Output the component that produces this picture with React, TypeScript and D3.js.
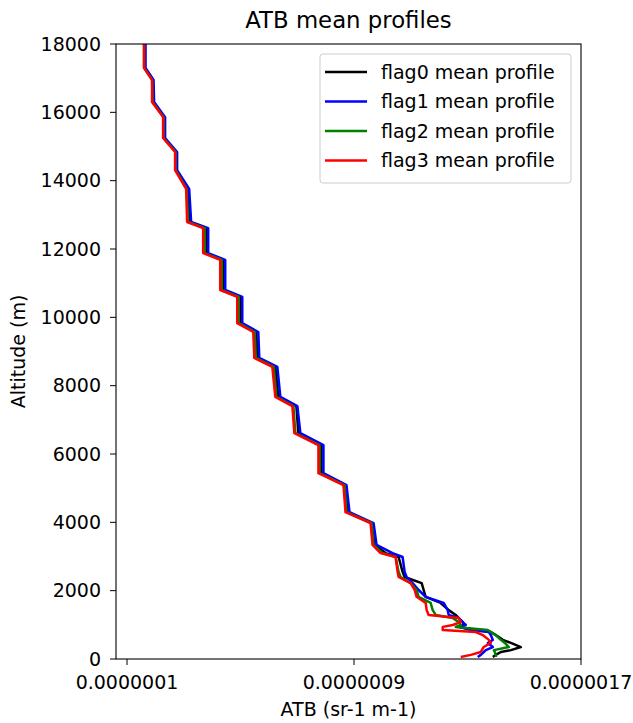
import React from 'react';
import * as d3 from 'd3';

const width = 633;
const height = 723;
const margin = { top: 44, right: 52, bottom: 64, left: 116 };
const font = 'DejaVu Sans, sans-serif';
const fontSize = 19;

// altitude grid shared by the four mean profiles (m)
const altitude = [
  18000, 17300, 16950, 16300, 15860, 15250, 14840, 14310, 13760, 12790, 12610, 11880, 11680,
  10800, 10600, 9830, 9570, 8810, 8550, 7670, 7400, 6610, 6260, 5440, 5090, 4300, 3980, 3340,
  3100, 2985, 2550, 2400, 2220, 2020, 1820, 1640, 1430, 1290, 1200, 1080, 995, 940, 850, 790,
  700, 560, 470, 350, 260, 205, 120, 60,
];

// ATB values (sr-1 m-1)
const flag0 = [
  1.618e-7, 1.618e-7, 1.901e-7, 1.918e-7, 2.307e-7, 2.307e-7, 2.731e-7, 2.731e-7, 3.137e-7, 3.208e-7,
  3.79e-7, 3.79e-7, 4.391e-7, 4.391e-7, 4.991e-7, 4.991e-7, 5.556e-7, 5.592e-7, 6.227e-7, 6.333e-7,
  6.969e-7, 7.04e-7, 7.852e-7, 7.852e-7, 8.7e-7, 8.77e-7, 9.618e-7, 9.724e-7, 10.113e-7, 10.572e-7,
  10.713e-7, 10.784e-7, 11.384e-7, 11.455e-7, 11.525e-7, 12.055e-7, 12.338e-7, 12.585e-7, 12.691e-7,
  12.832e-7, 12.868e-7, 12.691e-7, 13.291e-7, 13.821e-7, 13.998e-7, 14.245e-7, 14.528e-7, 14.881e-7,
  14.528e-7, 14.174e-7, 13.998e-7, 13.892e-7,
];
const flag1 = [
  1.653e-7, 1.653e-7, 1.936e-7, 1.954e-7, 2.342e-7, 2.342e-7, 2.766e-7, 2.766e-7, 3.19e-7, 3.26e-7,
  3.861e-7, 3.861e-7, 4.461e-7, 4.461e-7, 5.062e-7, 5.062e-7, 5.627e-7, 5.662e-7, 6.298e-7, 6.404e-7,
  7.004e-7, 7.11e-7, 7.923e-7, 7.923e-7, 8.735e-7, 8.841e-7, 9.689e-7, 9.795e-7, 10.36e-7, 10.713e-7,
  10.784e-7, 10.854e-7, 11.066e-7, 11.278e-7, 11.525e-7, 12.161e-7, 12.302e-7, 12.338e-7, 12.691e-7,
  12.832e-7, 12.938e-7, 12.691e-7, 13.115e-7, 13.751e-7, 13.821e-7, 13.892e-7, 13.715e-7, 13.892e-7,
  13.645e-7, 13.574e-7, 13.468e-7, 13.362e-7,
];
const flag2 = [
  1.6e-7, 1.6e-7, 1.883e-7, 1.901e-7, 2.289e-7, 2.289e-7, 2.713e-7, 2.713e-7, 3.102e-7, 3.155e-7,
  3.737e-7, 3.737e-7, 4.338e-7, 4.338e-7, 4.938e-7, 4.938e-7, 5.503e-7, 5.539e-7, 6.174e-7, 6.263e-7,
  6.863e-7, 6.934e-7, 7.781e-7, 7.781e-7, 8.664e-7, 8.735e-7, 9.618e-7, 9.689e-7, 10.007e-7, 10.466e-7,
  10.572e-7, 10.642e-7, 10.995e-7, 11.208e-7, 11.278e-7, 11.702e-7, 11.773e-7, 11.879e-7, 12.479e-7,
  12.691e-7, 12.762e-7, 12.585e-7, 13.715e-7, 13.821e-7, 13.998e-7, 14.174e-7, 14.316e-7, 14.457e-7,
  13.927e-7, 13.962e-7, 13.998e-7, 13.998e-7,
];
const flag3 = [
  1.6e-7, 1.6e-7, 1.883e-7, 1.883e-7, 2.272e-7, 2.272e-7, 2.695e-7, 2.695e-7, 3.084e-7, 3.119e-7,
  3.684e-7, 3.684e-7, 4.285e-7, 4.285e-7, 4.885e-7, 4.885e-7, 5.45e-7, 5.486e-7, 6.121e-7, 6.227e-7,
  6.828e-7, 6.898e-7, 7.746e-7, 7.746e-7, 8.629e-7, 8.7e-7, 9.583e-7, 9.653e-7, 9.936e-7, 10.466e-7,
  10.536e-7, 10.572e-7, 10.995e-7, 11.137e-7, 11.208e-7, 11.525e-7, 11.561e-7, 11.631e-7, 12.691e-7,
  12.762e-7, 12.479e-7, 12.126e-7, 12.126e-7, 13.291e-7, 13.539e-7, 13.751e-7, 13.821e-7, 13.574e-7,
  13.503e-7, 13.468e-7, 13.115e-7, 12.762e-7,
];

const seriesNames = ['flag0 mean profile', 'flag1 mean profile', 'flag2 mean profile', 'flag3 mean profile'];
const seriesColors = ['#000000', '#0000ff', '#008000', '#ff0000'];
const seriesValues = [flag0, flag1, flag2, flag3];

const xDomain = [6.12e-8, 1.7e-6];
const yDomain = [0, 18000];
const xTicks = [1e-7, 9e-7, 1.7e-6];
const xTickLabels = ['0.0000001', '0.0000009', '0.0000017'];
const yTicks = [0, 2000, 4000, 6000, 8000, 10000, 12000, 14000, 16000, 18000];

export default function App() {
  const x = d3.scaleLinear().domain(xDomain).range([margin.left, width - margin.right]);
  const y = d3.scaleLinear().domain(yDomain).range([height - margin.bottom, margin.top]);

  const line = d3
    .line<number>()
    .x((d) => x(d))
    .y((_, i) => y(altitude[i]));

  const plotW = width - margin.left - margin.right;
  const plotH = height - margin.top - margin.bottom;

  return (
    <svg
      width={width}
      height={height}
      style={{ position: 'absolute', left: 0, top: 0, background: '#fff' }}
      fontFamily={font}
    >
      <defs>
        <clipPath id="plot">
          <rect x={margin.left} y={margin.top} width={plotW} height={plotH} />
        </clipPath>
      </defs>

      <g clipPath="url(#plot)">
        {seriesValues.map((vals, i) => (
          <path
            key={i}
            d={line(vals) || ''}
            fill="none"
            stroke={seriesColors[i]}
            strokeWidth={2.5}
            strokeLinejoin="round"
          />
        ))}
      </g>

      {/* frame */}
      <rect x={margin.left} y={margin.top} width={plotW} height={plotH} fill="none" stroke="#000" strokeWidth={1.1} />

      {/* y axis */}
      {yTicks.map((t) => (
        <g key={t} transform={`translate(0,${y(t)})`}>
          <line x1={margin.left - 6} x2={margin.left} stroke="#000" strokeWidth={1} />
          <text x={margin.left - 15} dy="0.35em" textAnchor="end" fontSize={fontSize} fill="#000">
            {t}
          </text>
        </g>
      ))}

      {/* x axis */}
      {xTicks.map((t, i) => (
        <g key={t} transform={`translate(${x(t)},0)`}>
          <line y1={height - margin.bottom} y2={height - margin.bottom + 6} stroke="#000" strokeWidth={1} />
          <text y={height - margin.bottom + 30} textAnchor="middle" fontSize={fontSize} fill="#000">
            {xTickLabels[i]}
          </text>
        </g>
      ))}

      <text x={(margin.left + width - margin.right) / 2} y={716} textAnchor="middle" fontSize={fontSize} fill="#000">
        ATB (sr-1 m-1)
      </text>
      <text
        transform={`translate(25,${(margin.top + height - margin.bottom) / 2}) rotate(-90)`}
        textAnchor="middle"
        fontSize={fontSize}
        fill="#000"
      >
        Altitude (m)
      </text>
      <text x={(margin.left + width - margin.right) / 2} y={28} textAnchor="middle" fontSize={22.8} fill="#000">
        ATB mean profiles
      </text>

      {/* legend */}
      <g>
        <rect x={320} y={54} width={251} height={129} rx={3} fill="#fff" fillOpacity={0.8} stroke="#ccc" strokeWidth={1} />
        {seriesNames.map((name, i) => (
          <g key={name} transform={`translate(0,${72 + i * 29.5})`}>
            <line x1={325} x2={367} stroke={seriesColors[i]} strokeWidth={2.5} />
            <text x={381} dy="0.35em" fontSize={fontSize} fill="#000">
              {name}
            </text>
          </g>
        ))}
      </g>
    </svg>
  );
}
